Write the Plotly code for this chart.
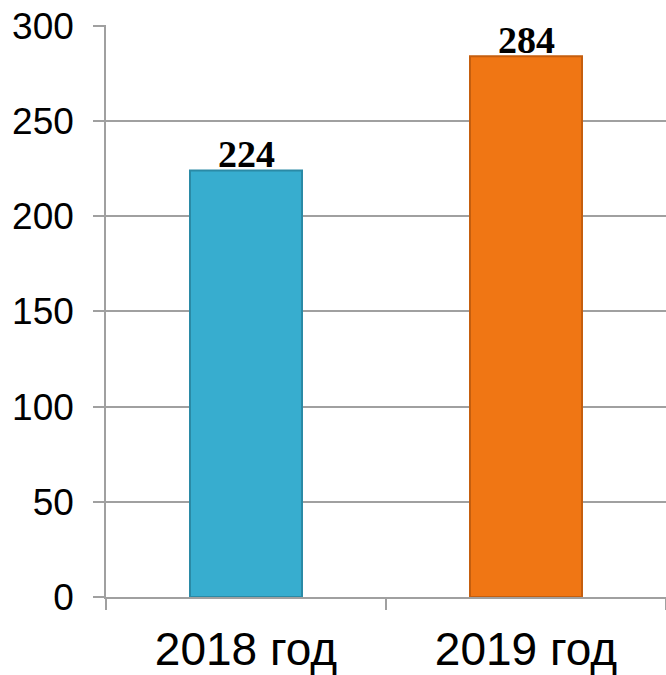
import plotly.graph_objects as go

categories = ["2018 год", "2019 год"]
values = [224, 284]
bar_colors = ["#37ADCF", "#F07614"]
edge_colors = ["#2A8AA6", "#C55E0E"]
y_ticks = [0, 50, 100, 150, 200, 250, 300]

fig = go.Figure()
fig.add_trace(go.Bar(
    x=categories,
    y=values,
    marker=dict(color=bar_colors, line=dict(color=edge_colors, width=2)),
    width=0.4,
    hoverinfo="skip",
))

for c, v in zip(categories, values):
    fig.add_annotation(
        x=c, y=v, text=f"<b>{v}</b>", showarrow=False,
        yanchor="bottom", yshift=-7,
        font=dict(family="Liberation Serif", size=38, color="black"),
    )

fig.update_layout(
    width=666, height=675,
    margin=dict(l=106, r=0, t=25, b=78, autoexpand=False),
    plot_bgcolor="white", paper_bgcolor="white",
    showlegend=False,
    font=dict(family="Liberation Sans", color="black"),
    yaxis=dict(
        range=[0, 300.4], tickvals=y_ticks, automargin=False,
        showgrid=True, gridcolor="#A0A0A0", gridwidth=1.5,
        showline=True, linecolor="#A0A0A0", linewidth=1.5,
        ticks="outside", ticklen=11, tickcolor="#A0A0A0", tickwidth=1.5,
        tickfont=dict(size=37, family="Liberation Sans", color="black"),
        ticklabelstandoff=12,
        zeroline=False,
    ),
    xaxis=dict(
        automargin=False,
        showline=True, linecolor="#A0A0A0", linewidth=1.5,
        ticks="outside", ticklen=11, tickcolor="#A0A0A0", tickwidth=1.5,
        tickson="boundaries",
        tickfont=dict(size=46, family="Liberation Sans", color="black"),
        ticklabelstandoff=11,
    ),
)

fig.write_html("out.html", config={"displayModeBar": False},
               post_script="document.body.style.margin='0';")
